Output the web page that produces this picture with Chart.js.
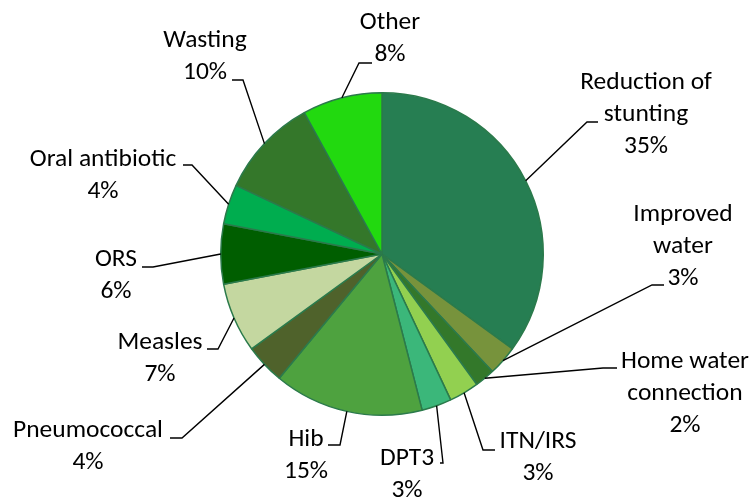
<!DOCTYPE html>
<html>
<head>
<meta charset="utf-8">
<script src="https://cdn.jsdelivr.net/npm/chart.js@4"></script>
<style>
  html, body { margin: 0; padding: 0; background: #fff; }
  #chart { display: block; }
</style>
</head>
<body>
<canvas id="chart" width="752" height="497"></canvas>
<script>
// slice names (one entry per text line) and their shares, clockwise from 12 o'clock
const categories = [
    ['Reduction of', 'stunting'],
    ['Improved', 'water'],
    ['Home water', 'connection'],
    ['ITN/IRS'],
    ['DPT3'],
    ['Hib'],
    ['Pneumococcal'],
    ['Measles'],
    ['ORS'],
    ['Oral antibiotic'],
    ['Wasting'],
    ['Other']
];
const shares = [35, 3, 2, 3, 3, 15, 4, 7, 6, 4, 10, 8];

const sliceColors = [
    '#267E52', '#77933C', '#33782A', '#92D050', '#3BB77A', '#4EA23F',
    '#4F622B', '#C4D7A0', '#005E00', '#00AD4F', '#34772A', '#22D90F'
];

// where each label block sits (center x, first line y) and the leader's bend/end points
const labelLayout = [
    { x: 646, y: 83,  elbow: [587, 122], end: [598, 122] },
    { x: 683, y: 215, elbow: [652, 285], end: [664, 285] },
    { x: 685, y: 362, elbow: [603, 368], end: [617, 368] },
    { x: 538, y: 442, elbow: [483, 450], end: [495, 450] },
    { x: 407, y: 459, elbow: [443, 463], end: [440, 463] },
    { x: 306, y: 440, elbow: [340, 445], end: [328, 445] },
    { x: 88,  y: 431, elbow: [182, 438], end: [170, 438] },
    { x: 160, y: 343, elbow: [218, 349], end: [207, 349] },
    { x: 116, y: 260, elbow: [153, 267], end: [142, 267] },
    { x: 103, y: 160, elbow: [192, 165], end: [183, 165] },
    { x: 205, y: 41,  elbow: [243, 80],  end: [232, 80] },
    { x: 390, y: 23,  elbow: [359, 63],  end: [372, 63] }
];

const LINE_GAP = 32;
const LABEL_FONT = '25.5px Carlito, Calibri, Lato, sans-serif';

// leader lines + multi-line labels drawn after the pie
const leaderLabels = {
    id: 'leaderLabels',
    afterDatasetsDraw(chart) {
        const ctx = chart.ctx;
        const meta = chart.getDatasetMeta(0);
        ctx.save();
        meta.data.forEach((arc, i) => {
            const p = arc.getProps(['x', 'y', 'startAngle', 'endAngle', 'outerRadius'], true);
            const mid = (p.startAngle + p.endAngle) / 2;
            const sx = p.x + Math.cos(mid) * p.outerRadius;
            const sy = p.y + Math.sin(mid) * p.outerRadius;
            const lay = labelLayout[i];

            ctx.strokeStyle = '#000';
            ctx.lineWidth = 1.4;
            ctx.beginPath();
            ctx.moveTo(sx, sy);
            ctx.lineTo(lay.elbow[0], lay.elbow[1]);
            ctx.lineTo(lay.end[0], lay.end[1]);
            ctx.stroke();

            const lines = categories[i].concat([shares[i] + '%']);
            ctx.fillStyle = '#000';
            ctx.font = LABEL_FONT;
            ctx.textAlign = 'center';
            ctx.textBaseline = 'middle';
            lines.forEach((txt, k) => {
                ctx.fillText(txt, lay.x, lay.y + k * LINE_GAP);
            });
        });
        ctx.restore();
    }
};

const ctx = document.getElementById('chart').getContext('2d');
new Chart(ctx, {
    type: 'pie',
    data: {
        labels: categories.map(c => c.join(' ')),
        datasets: [{
            data: shares,
            backgroundColor: sliceColors,
            borderColor: '#2B7A4B',
            borderWidth: 1.5
        }]
    },
    options: {
        responsive: false,
        animation: false,
        layout: {
            padding: { left: 220, right: 208, top: 92, bottom: 81 }
        },
        plugins: {
            legend: { display: false },
            tooltip: { enabled: false }
        }
    },
    plugins: [leaderLabels]
});
</script>
</body>
</html>
